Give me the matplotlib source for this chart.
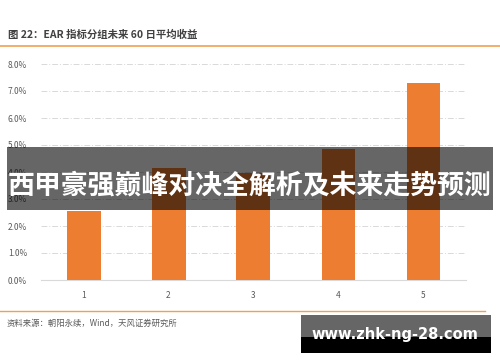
import matplotlib.pyplot as plt
from matplotlib.patches import Rectangle
from matplotlib.ticker import PercentFormatter

plt.rcParams['font.family'] = ['Noto Sans CJK SC', 'DejaVu Sans']

# Data
groups = ['1', '2', '3', '4', '5']
avg_return = [0.0256, 0.0414, 0.0395, 0.0485, 0.0730]
y_ticks = [0.0, 0.01, 0.02, 0.03, 0.04, 0.05, 0.06, 0.07, 0.08]

title = '图 22：EAR 指标分组未来 60 日平均收益'
source = '资料来源：朝阳永续，Wind，天风证券研究所'
banner = '西甲豪强巅峰对决全解析及未来走势预测'
watermark = 'www.zhk-ng-28.com'

W, H = 500, 362
fig = plt.figure(figsize=(5, 3.62), dpi=100)

# Chart area
ax = fig.add_axes([41 / W, 1 - 280 / H, 425 / W, 216 / H])
x = range(1, len(groups) + 1)
ax.bar(x, avg_return, width=0.4, color='#ED7D31', zorder=3)
ax.set_xlim(0.5, 5.5)
ax.set_ylim(0, 0.08)
ax.set_yticks(y_ticks)
ax.yaxis.set_major_formatter(PercentFormatter(1.0, decimals=1))
ax.set_xticks(list(x))
ax.set_xticklabels(groups)
ax.grid(axis='y', color='#D9D9D9', linestyle=(0, (6, 2, 1, 2)), linewidth=0.7, zorder=0)
for s in ['top', 'right', 'left']:
    ax.spines[s].set_visible(False)
ax.spines['bottom'].set_color('#D9D9D9')
ax.tick_params(axis='both', length=0, labelsize=6, colors='#595959', pad=8)
ax.tick_params(axis='y', pad=10)

# Header and footer
fig.text(8 / W, 1 - 35 / H, title, fontsize=7.5, fontweight='bold', color='#404040', va='center')
fig.add_artist(plt.Line2D([0, 1], [1 - 46 / H, 1 - 46 / H], color='#F0A050', linewidth=1.2))
fig.add_artist(plt.Line2D([0, 485 / W], [1 - 311 / H, 1 - 311 / H], color='#F0A050', linewidth=1.0))
fig.text(7 / W, 1 - 323 / H, source, fontsize=6, color='#595959', va='center')

# Overlay banner
fig.add_artist(Rectangle((7 / W, 1 - 210 / H), 486 / W, 63 / H, transform=fig.transFigure,
                         facecolor='#000000', alpha=0.6, edgecolor='none', zorder=5))
fig.text(250 / W, 1 - 186 / H, banner, fontsize=19.4, fontweight='bold', color='white',
         ha='center', va='center', zorder=6)

# Watermark box
fig.add_artist(Rectangle((301 / W, 1 - 337 / H), 190 / W, 22 / H, transform=fig.transFigure,
                         facecolor='#666666', edgecolor='none', zorder=5))
fig.add_artist(Rectangle((301 / W, 1 - 353 / H), 190 / W, 16 / H, transform=fig.transFigure,
                         facecolor='#000000', edgecolor='none', zorder=5))
fig.text(395 / W, 1 - 334 / H, watermark, fontsize=10.5, fontweight='bold', color='white',
         family='DejaVu Sans', ha='center', va='center', zorder=6)

fig.savefig('out.png', dpi=100)
